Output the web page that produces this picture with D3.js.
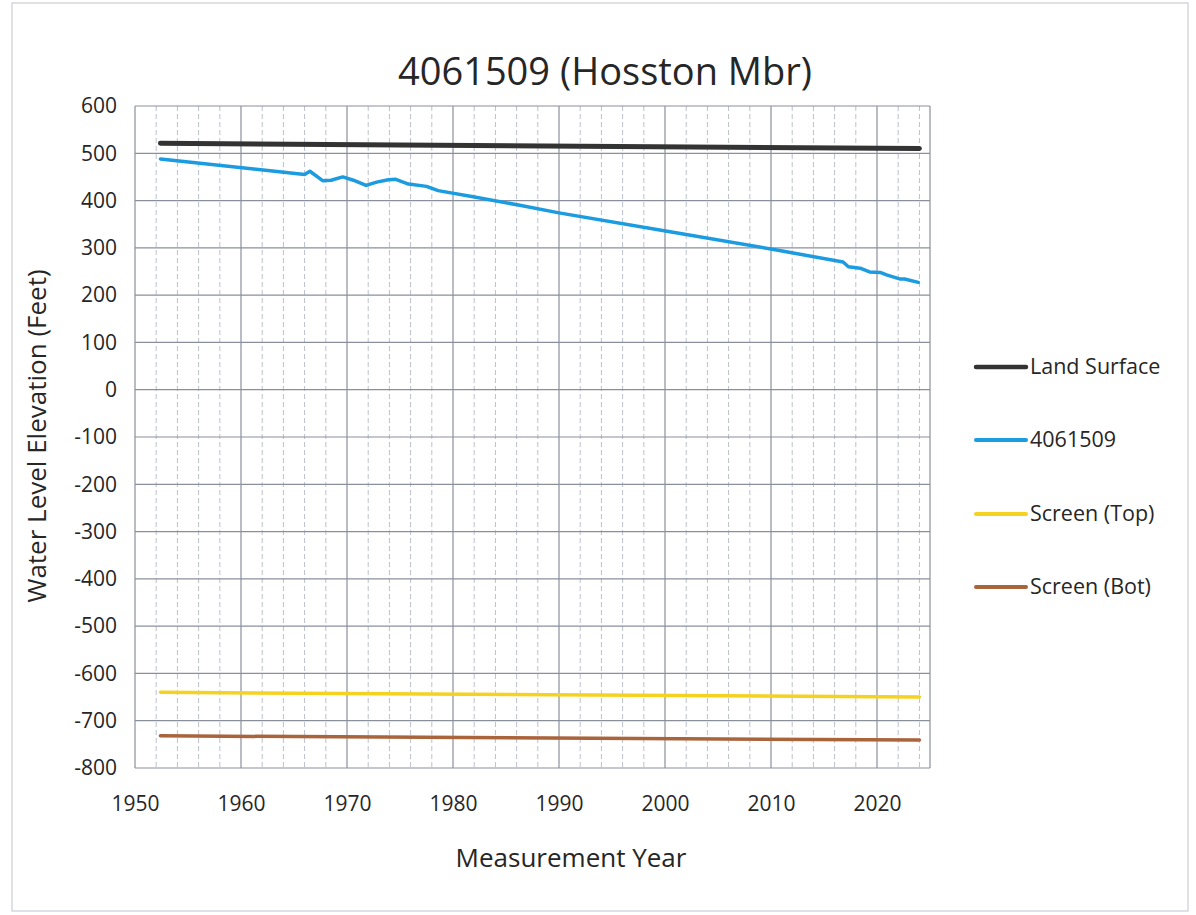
<!DOCTYPE html>
<html><head><meta charset="utf-8">
<script src="https://cdn.jsdelivr.net/npm/d3@7"></script>
<style>body{margin:0;background:#fff}svg{display:block}text{font-family:"Open Sans","Noto Sans",sans-serif;fill:#262626}</style>
</head><body><svg id="c" width="1196" height="915"></svg>
<script>
const title = "4061509 (Hosston Mbr)";
const xLabel = "Measurement Year";
const yLabel = "Water Level Elevation (Feet)";
const xTicks = [1950,1960,1970,1980,1990,2000,2010,2020];
const yTicks = [600,500,400,300,200,100,0,-100,-200,-300,-400,-500,-600,-700,-800];
const seriesNames = ["Land Surface","4061509","Screen (Top)","Screen (Bot)"];
const seriesColors = ["#333333","#1b9be0","#f5d21f","#a9643c"];
const landYears = [1952.4, 2024.0];
const landVals = [521, 510];
const wellYears = [1952.4,1966.0,1966.5,1967.7,1968.5,1969.6,1970.6,1971.8,1972.8,1973.9,1974.6,1975.8,1977.5,1978.6,1981.9,1986.3,1990,2000.2,2010.4,2016.8,2017.3,2018.4,2019.3,2020.3,2020.9,2022.2,2022.6,2023.9];
const wellVals  = [488,455,462,442,443,450,443,432,439,444,445,435,430,421,408,390,374,335,296,270,260,257,249,248,243,234,234,227];
const topYears = [1952.4, 2024.0];
const topVals = [-640, -650];
const botYears = [1952.4, 2024.0];
const botVals = [-732, -741];

const svg = d3.select("#c");
svg.append("rect").attr("x",12).attr("y",3).attr("width",1176).attr("height",908).attr("fill","none").attr("stroke","#bfc4cc").attr("stroke-width",1);

const L=135,R=930,T=106,B=768;
const x = d3.scaleLinear().domain([1950,2025]).range([L,R]);
const y = d3.scaleLinear().domain([-800,600]).range([B,T]);

const g = svg.append("g");
g.selectAll(".mv").data(d3.range(1952,2025,2).filter(v=>v%10!==0)).enter().append("line")
 .attr("x1",d=>x(d)).attr("x2",d=>x(d)).attr("y1",T).attr("y2",B)
 .attr("stroke","#bcc0ca").attr("stroke-width",1).attr("stroke-dasharray","5,3");
g.selectAll(".Mv").data(d3.range(1950,2030,10).concat([2025])).enter().append("line")
 .attr("x1",d=>x(d)).attr("x2",d=>x(d)).attr("y1",T).attr("y2",B)
 .attr("stroke","#8a8f9c").attr("stroke-width",1.2);
g.selectAll(".h").data(yTicks).enter().append("line")
 .attr("x1",L).attr("x2",R).attr("y1",d=>y(d)).attr("y2",d=>y(d))
 .attr("stroke","#8a8f9c").attr("stroke-width",1.2);

const ya = d3.axisLeft(y).tickValues(yTicks).tickFormat(d=>String(d)).tickSize(0).tickPadding(18);
svg.append("g").attr("transform",`translate(${L},0)`).call(ya)
 .call(s=>s.select(".domain").remove())
 .selectAll("text").attr("font-size",21).attr("fill","#262626").attr("font-family","'Open Sans',sans-serif");
const xa = d3.axisBottom(x).tickValues(xTicks).tickFormat(d3.format("d")).tickSize(0).tickPadding(28);
svg.append("g").attr("transform",`translate(0,${B})`).call(xa)
 .call(s=>s.select(".domain").remove())
 .selectAll("text").attr("font-size",21).attr("fill","#262626").attr("font-family","'Open Sans',sans-serif");

const line = d3.line().x(d=>x(d[0])).y(d=>y(d[1]));
const zip=(a,b)=>a.map((v,i)=>[v,b[i]]);
const data = [zip(landYears,landVals),zip(wellYears,wellVals),zip(topYears,topVals),zip(botYears,botVals)];
const widths=[5,3.5,3.5,3.5];
[2,3,1,0].forEach(i=>{
  svg.append("path").datum(data[i]).attr("d",line).attr("fill","none")
   .attr("stroke",seriesColors[i]).attr("stroke-width",widths[i])
   .attr("stroke-linejoin","round").attr("stroke-linecap","round");
});

svg.append("text").attr("x",605).attr("y",85).attr("text-anchor","middle").attr("font-size",38).text(title);
svg.append("text").attr("x",571).attr("y",867).attr("text-anchor","middle").attr("font-size",26).text(xLabel);
svg.append("text").attr("transform","translate(46,436) rotate(-90)").attr("text-anchor","middle").attr("font-size",26).text(yLabel);

const legY=[367,440,514,587];
seriesNames.forEach((n,i)=>{
  svg.append("line").attr("x1",976).attr("x2",1026).attr("y1",legY[i]).attr("y2",legY[i])
   .attr("stroke",seriesColors[i]).attr("stroke-width",i===0?4.5:4).attr("stroke-linecap","round");
  svg.append("text").attr("x",1030).attr("y",legY[i]+7).attr("font-size",21.5).text(n);
});
</script></body></html>
